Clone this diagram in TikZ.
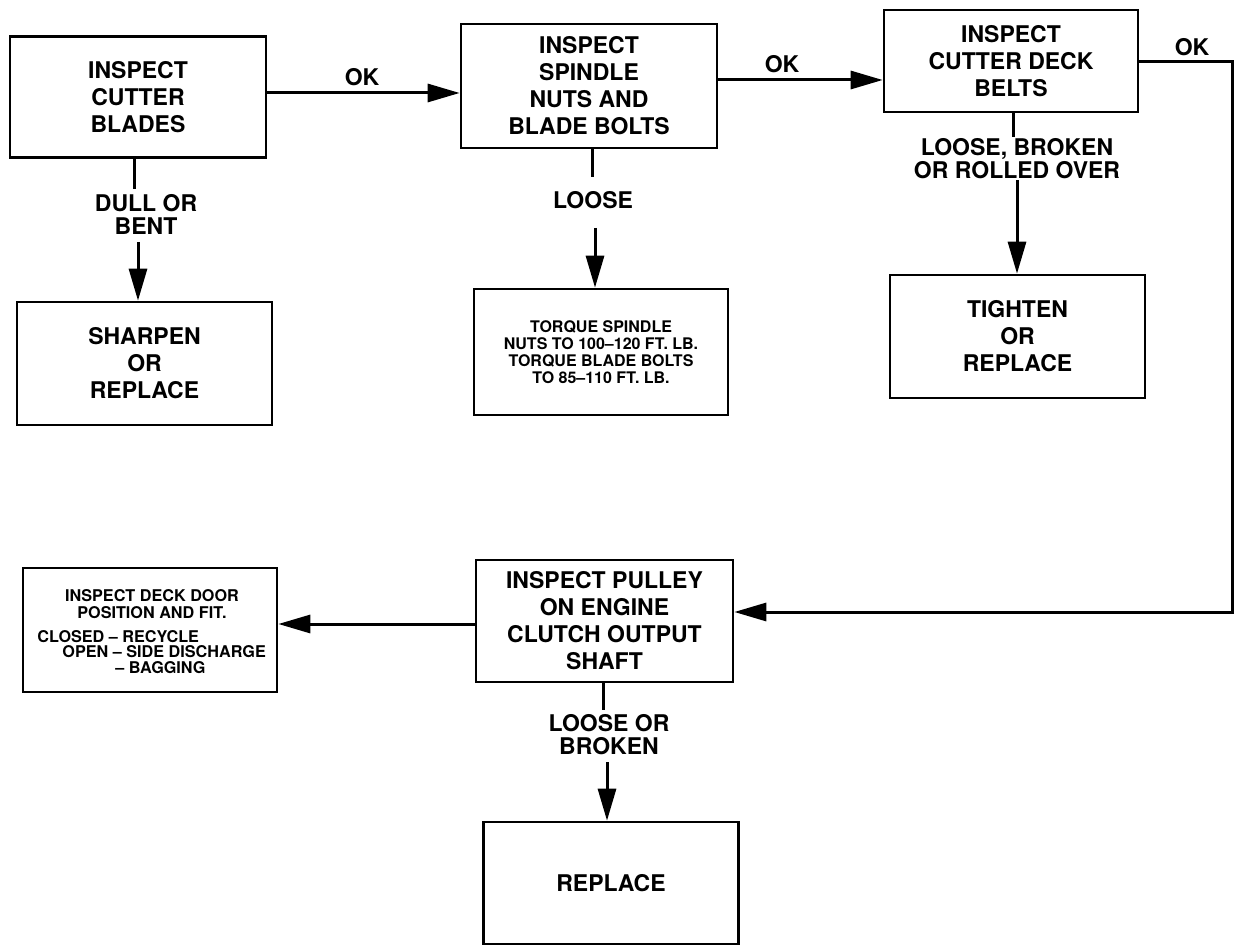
\documentclass[tikz,border=0pt]{standalone}
\usepackage{fontspec}
\setmainfont{TeX Gyre Heros}
\usetikzlibrary{arrows.meta}
\begin{document}
\begin{tikzpicture}[x=0.5pt,y=-0.5pt,
  bx/.style={draw, line width=1.3pt, inner sep=0pt, align=center,
    font=\bfseries\fontsize{11.5}{13.5}\selectfont},
  lbl/.style={inner sep=0pt, align=center,
    font=\bfseries\fontsize{11.5}{11.5}\selectfont},
  sm/.style={inner sep=0pt, align=center,
    font=\bfseries\fontsize{8.1}{8.3}\selectfont},
  ln/.style={line width=1.5pt},
  arr/.style={line width=1.5pt, -{Triangle[length=16pt,width=9pt]}}]
\useasboundingbox (0,0) rectangle (1246,945);
\fill[white] (0,0) rectangle (1246,945);

% boxes
\node[bx, minimum width=128pt, minimum height=60.5pt] (A) at (138,97) {INSPECT\\CUTTER\\BLADES};
\node[bx, minimum width=127.5pt, minimum height=61.5pt] (B) at (144.5,363.5) {SHARPEN\\OR\\REPLACE};
\node[bx, minimum width=128pt, minimum height=62pt] (C) at (589,86) {INSPECT\\SPINDLE\\NUTS AND\\BLADE BOLTS};
\node[bx, minimum width=127pt, minimum height=63pt,
  font=\bfseries\fontsize{8}{8.5}\selectfont] (D) at (601,352)
  {TORQUE SPINDLE\\NUTS TO 100–120 FT. LB.\\TORQUE BLADE BOLTS\\TO 85–110 FT. LB.};
\node[bx, minimum width=127pt, minimum height=51pt] (E) at (1011,61) {INSPECT\\CUTTER DECK\\BELTS};
\node[bx, minimum width=127.5pt, minimum height=61.5pt] (F) at (1017.5,336.5) {TIGHTEN\\OR\\REPLACE};
\node[bx, minimum width=128.5pt, minimum height=61pt] (G) at (604.5,621) {INSPECT PULLEY\\ON ENGINE\\CLUTCH OUTPUT\\SHAFT};
\node[bx, minimum width=127pt, minimum height=62pt] (H) at (150,630) {};
\node[bx, minimum width=127.5pt, minimum height=61pt] (I) at (611,883) {REPLACE};

% text of the deck door box
\node[sm] (Ht1) at (152,604) {INSPECT DECK DOOR\\POSITION AND FIT.};
\node[sm, anchor=west] (Ht2) at (37,637) {CLOSED – RECYCLE};
\node[sm, anchor=west] (Ht3) at (62,652) {OPEN – SIDE DISCHARGE};
\node[sm, anchor=west] (Ht4) at (115,668) {– BAGGING};

% labels
\node[lbl] (okA) at (362,77) {OK};
\node[lbl] (okC) at (782,64) {OK};
\node[lbl] (okE) at (1192,47) {OK};
\node[lbl] (l1) at (146,214) {DULL OR\\BENT};
\node[lbl] (l2) at (593,200) {LOOSE};
\node[lbl] (l3) at (1017,159) {LOOSE, BROKEN\\OR ROLLED OVER};
\node[lbl] (l4) at (609,735) {LOOSE OR\\BROKEN};

% vertical connectors
\coordinate (a1) at (134,189); \coordinate (a2) at (138,242);
\draw[ln] (A.south -| a1) -- (a1);
\draw[arr] (a2) -- (a2 |- B.north);
\coordinate (c1) at (592,177); \coordinate (c2) at (595,228);
\draw[ln] (C.south -| c1) -- (c1);
\draw[arr] (c2) -- (c2 |- D.north);
\coordinate (e1) at (1013,137); \coordinate (e2) at (1017,180);
\draw[ln] (E.south -| e1) -- (e1);
\draw[arr] (e2) -- (e2 |- F.north);
\coordinate (g1) at (603,710); \coordinate (g2) at (607,762);
\draw[ln] (G.south -| g1) -- (g1);
\draw[arr] (g2) -- (g2 |- I.north);

% horizontal connectors
\coordinate (h1) at (0,93);
\draw[arr] (A.east |- h1) -- (C.west |- h1);
\coordinate (h2) at (0,80);
\draw[arr] (C.east |- h2) -- (E.west |- h2);
\coordinate (h3) at (1232,62); \coordinate (h4) at (1232,612);
\draw[arr] (E.east |- h3) -- (h3) -- (h4) -- (G.east |- h4);
\coordinate (h5) at (0,624);
\draw[arr] (G.west |- h5) -- (H.east |- h5);
\end{tikzpicture}
\end{document}
